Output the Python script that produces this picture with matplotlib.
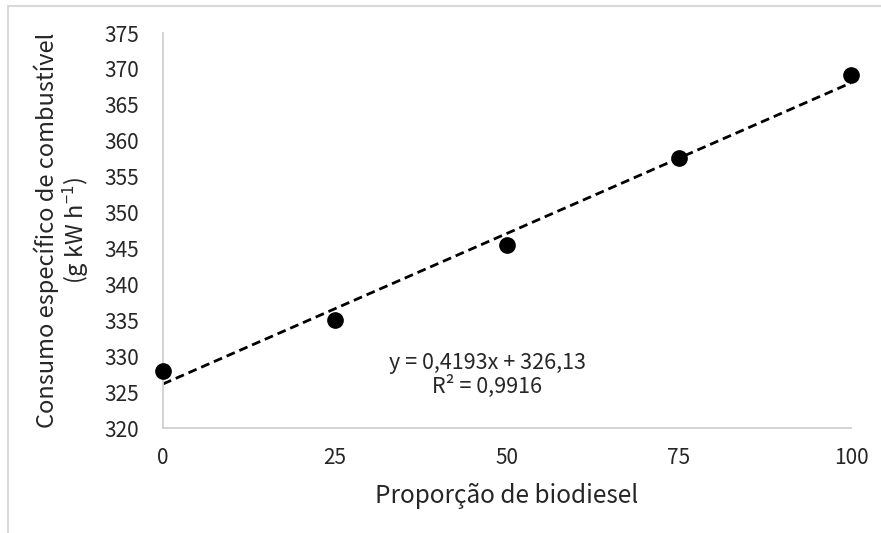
import matplotlib
matplotlib.use("Agg")
import matplotlib.pyplot as plt
from matplotlib.patches import Rectangle
import numpy as np

# data
proporcao = [0, 25, 50, 75, 100]
consumo = [328.0, 335.0, 345.5, 357.6, 369.2]
slope = 0.4193
intercept = 326.13
x_ticks = [0, 25, 50, 75, 100]
y_ticks = [320, 325, 330, 335, 340, 345, 350, 355, 360, 365, 370, 375]
eq_text = "y = 0,4193x + 326,13\nR² = 0,9916"
x_label = "Proporção de biodiesel"
y_label = "Consumo específico de combustível\n(g kW h$^{-1}$)"

fam = ["Noto Sans CJK JP", "DejaVu Sans"]
plt.rcParams["font.family"] = fam
plt.rcParams["mathtext.fontset"] = "custom"
plt.rcParams["mathtext.rm"] = "Noto Sans CJK JP"
plt.rcParams["mathtext.default"] = "regular"

fig = plt.figure(figsize=(8.81, 5.33), dpi=100)
fig.patch.set_facecolor("white")

# outer chart border (light gray)
W, H = 881, 533
fig.add_artist(Rectangle((8 / W, -0.1), 1.2, 1 - 6 / H + 0.1,
                         transform=fig.transFigure, fill=False,
                         edgecolor="#d9d9d9", linewidth=1.5))

ax = fig.add_axes([163 / W, 1 - 428 / H, (851 - 163) / W, (428 - 33) / H])
ax.set_xlim(0, 100)
ax.set_ylim(320, 375)

xfit = np.array([min(proporcao), max(proporcao)])
ax.plot(xfit, slope * xfit + intercept, linestyle=(0, (3.2, 1.8)),
        color="black", linewidth=2.0, zorder=2)
ax.plot(proporcao, consumo, "o", color="black", markersize=11, zorder=3,
        clip_on=False)

for s in ["top", "right"]:
    ax.spines[s].set_visible(False)
for s in ["left", "bottom"]:
    ax.spines[s].set_color("#d0d0d0")
    ax.spines[s].set_linewidth(1.3)

ax.set_xticks(x_ticks)
ax.set_yticks(y_ticks)
ax.tick_params(length=0, labelsize=15, colors="#262626")
ax.tick_params(axis="x", pad=14)
ax.tick_params(axis="y", pad=17)

ax.set_xlabel(x_label, fontsize=17.5, color="#262626", labelpad=10)
ax.set_ylabel(y_label, fontsize=17, color="#262626",
              labelpad=10, linespacing=1.05)

ax.text(0.471, 0.134, eq_text, transform=ax.transAxes, ha="center", va="center",
        fontsize=15.5, color="#262626", linespacing=1.05)

fig.savefig("out.png", dpi=100, facecolor="white")
